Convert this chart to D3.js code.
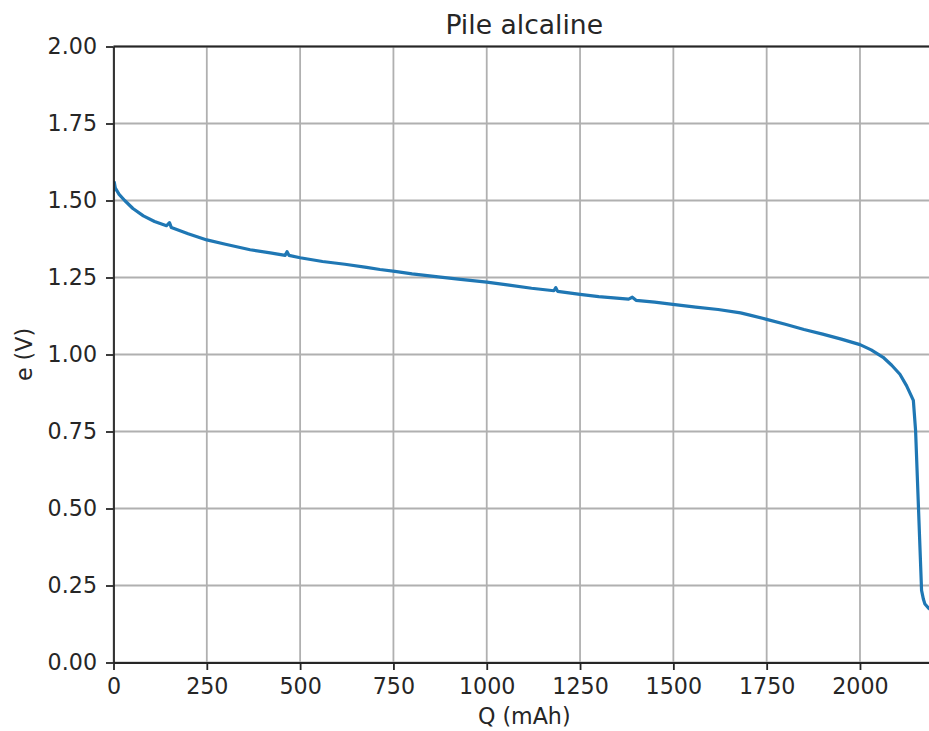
<!DOCTYPE html>
<html>
<head>
<meta charset="utf-8">
<script src="https://cdn.jsdelivr.net/npm/d3@7"></script>
<style>
  body { margin: 0; background: #fff; }
  svg text { font-family: "DejaVu Sans", sans-serif; fill: #262626; }
  .grid line { stroke: #b0b0b0; stroke-width: 1.8; }
  .axis path, .axis line { stroke: #262626; stroke-width: 1.8; }
</style>
</head>
<body>
<div id="container"></div>
<script>
// charge (mAh) and voltage (V)
var Q = [0, 2, 5, 15, 30, 52, 80, 110, 142, 150, 155, 200, 250, 300, 366, 420,
         460, 465, 470, 500, 560, 620, 678, 714, 754, 800, 870, 930, 1000, 1060,
         1120, 1180, 1185, 1190, 1250, 1300, 1380, 1390, 1400, 1450, 1504, 1560,
         1620, 1680, 1705, 1750, 1800, 1850, 1900, 1950, 2000, 2030, 2062, 2085,
         2107, 2125, 2143, 2149, 2156, 2161, 2165, 2170, 2174, 2185, 2201];
var V = [1.53, 1.56, 1.54, 1.52, 1.50, 1.474, 1.45, 1.432, 1.418, 1.428, 1.412,
         1.392, 1.372, 1.358, 1.340, 1.330, 1.322, 1.334, 1.322, 1.314, 1.302,
         1.293, 1.283, 1.276, 1.270, 1.262, 1.252, 1.244, 1.235, 1.225, 1.215,
         1.207, 1.217, 1.205, 1.195, 1.188, 1.180, 1.186, 1.176, 1.170, 1.162,
         1.154, 1.146, 1.135, 1.128, 1.114, 1.098, 1.081, 1.066, 1.050, 1.032,
         1.015, 0.991, 0.965, 0.936, 0.898, 0.851, 0.753, 0.526, 0.364, 0.234,
         0.205, 0.19, 0.175, 0.16];

var X_TICKS = [0, 250, 500, 750, 1000, 1250, 1500, 1750, 2000];
var Y_TICKS = [0, 0.25, 0.5, 0.75, 1.0, 1.25, 1.5, 1.75, 2.0];
var X_MAX = 2201;

var TITLE = "Pile alcaline";
var XLABEL = "Q (mAh)";
var YLABEL = "e (V)";

var WIDTH = 929, HEIGHT = 731;
var FONT = 22.2;
var margin = { top: 46.5, left: 113.5, right: -6, bottom: 68.5 };
var w = WIDTH - margin.left - margin.right;
var h = HEIGHT - margin.top - margin.bottom;

var svg = d3.select("#container").append("svg")
    .attr("width", WIDTH)
    .attr("height", HEIGHT);

var g = svg.append("g")
    .attr("transform", "translate(" + margin.left + "," + margin.top + ")");

var x = d3.scaleLinear().domain([0, X_MAX]).range([0, w]);
var y = d3.scaleLinear().domain([0, 2]).range([h, 0]);

// grid
g.append("g").classed("grid", true)
    .selectAll("line.gx")
    .data(X_TICKS)
    .enter().append("line")
    .attr("x1", function(d){ return x(d); })
    .attr("x2", function(d){ return x(d); })
    .attr("y1", 0).attr("y2", h);

g.append("g").classed("grid", true)
    .selectAll("line.gy")
    .data(Y_TICKS)
    .enter().append("line")
    .attr("y1", function(d){ return y(d); })
    .attr("y2", function(d){ return y(d); })
    .attr("x1", 0).attr("x2", w);

// the curve
var pts = Q.map(function(q, i){ return [q, V[i]]; });

svg.append("clipPath").attr("id", "clip")
    .append("rect").attr("width", w).attr("height", h);

g.append("path")
    .datum(pts)
    .attr("clip-path", "url(#clip)")
    .attr("fill", "none")
    .attr("stroke", "#1f77b4")
    .attr("stroke-width", 3.2)
    .attr("stroke-linejoin", "round")
    .attr("d", d3.line()
	  .x(function(d){ return x(d[0]); })
	  .y(function(d){ return y(d[1]); }));

// axes
g.append("g").classed("axis", true)
    .attr("transform", "translate(0," + h + ")")
    .call(d3.axisBottom(x).tickValues(X_TICKS).tickSize(7.5).tickPadding(8)
	  .tickFormat(d3.format("d")).tickSizeOuter(0));

g.append("g").classed("axis", true)
    .call(d3.axisLeft(y).tickValues(Y_TICKS).tickSize(7.5).tickPadding(9)
	  .tickFormat(d3.format(".2f")).tickSizeOuter(0));

g.selectAll(".axis text")
    .style("font-size", FONT + "px")
    .style("font-family", "DejaVu Sans")
    .attr("fill", "#262626");

// top spine
g.append("line")
    .attr("x1", 0).attr("x2", w)
    .attr("y1", 0).attr("y2", 0)
    .attr("stroke", "#262626").attr("stroke-width", 1.8);

// labels
g.append("text")
    .attr("x", w / 2).attr("y", -13)
    .attr("text-anchor", "middle")
    .style("font-size", "26.6px")
    .text(TITLE);

g.append("text")
    .attr("x", w / 2).attr("y", h + 61)
    .attr("text-anchor", "middle")
    .style("font-size", FONT + "px")
    .text(XLABEL);

g.append("text")
    .attr("transform", "translate(" + (-82) + "," + (h / 2) + ") rotate(-90)")
    .attr("text-anchor", "middle")
    .style("font-size", FONT + "px")
    .text(YLABEL);
</script>
</body>
</html>
